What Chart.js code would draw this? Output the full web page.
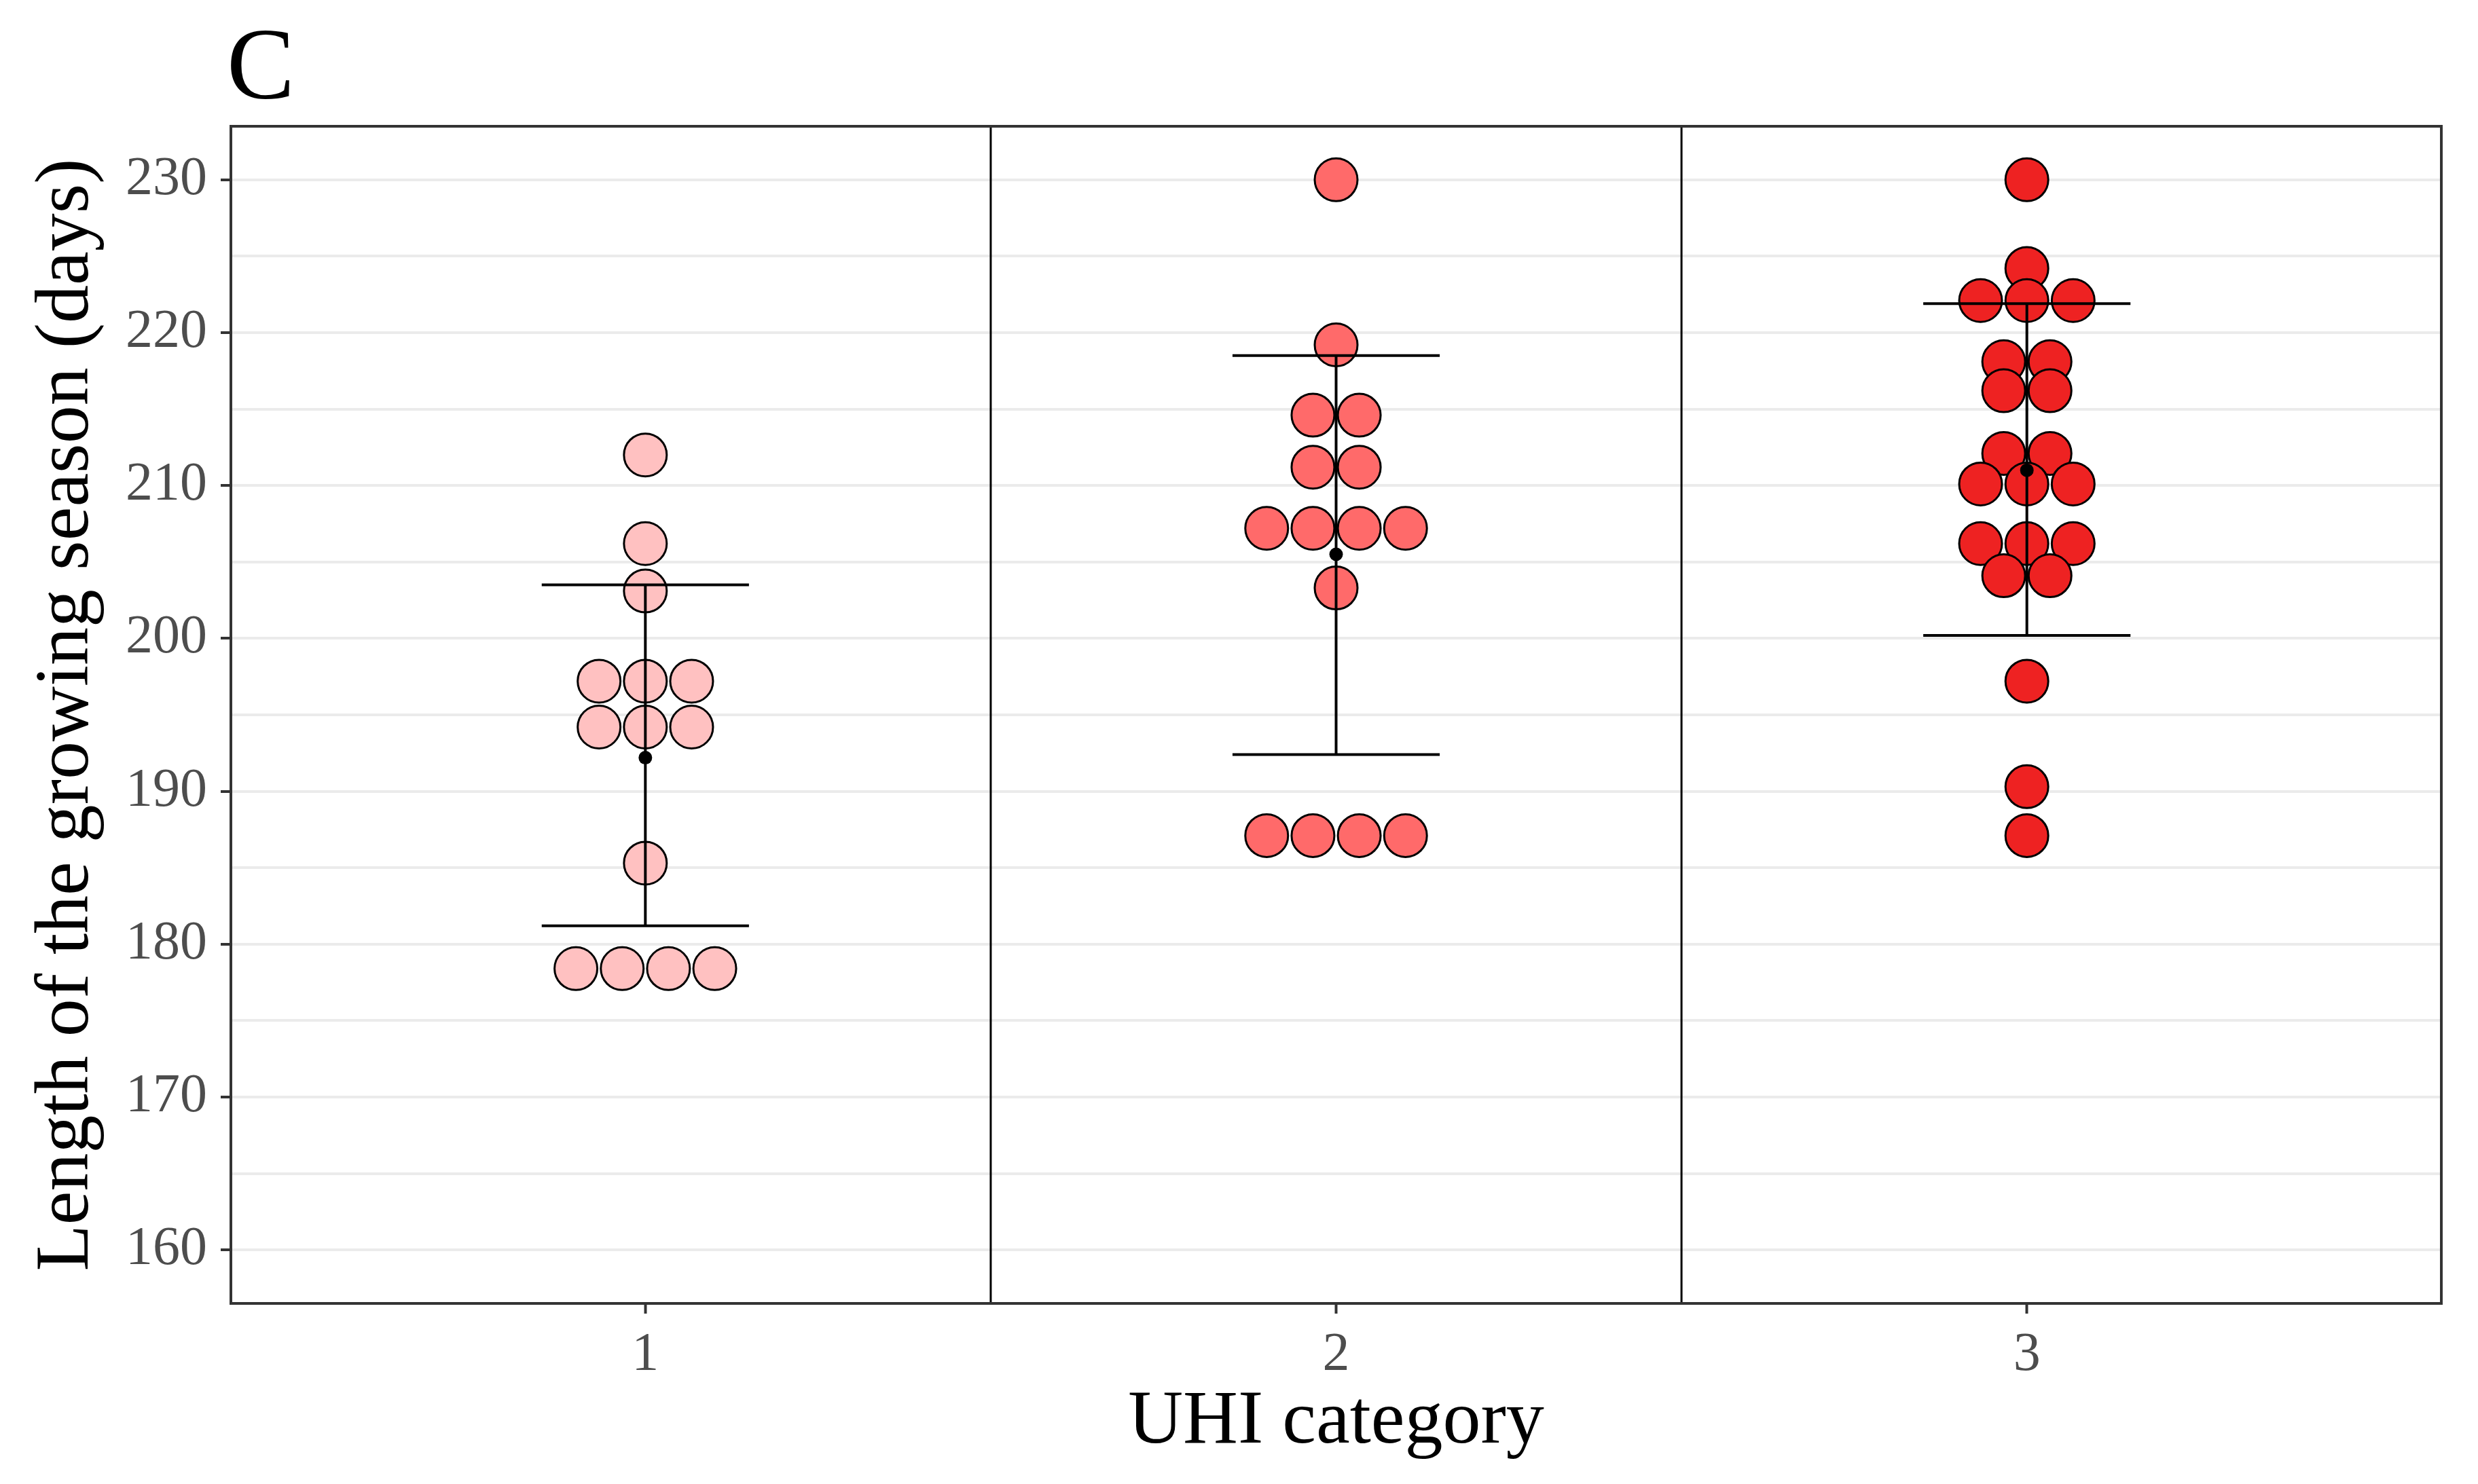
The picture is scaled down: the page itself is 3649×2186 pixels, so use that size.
<!DOCTYPE html>
<html><head><meta charset="utf-8">
<script src="https://cdn.jsdelivr.net/npm/chart.js@4/dist/chart.umd.min.js"></script>
<style>html,body{margin:0;padding:0;background:#fff}#wrap{width:3649px;height:2186px}</style>
</head><body><div id="wrap"><canvas id="c" width="3649" height="2186"></canvas></div>
<script>
// ---- data ----
const categories = [1, 2, 3];
const categoryLabels = ['1', '2', '3'];
const uhi1 = [212.0, 206.2, 203.1, 197.2, 197.2, 197.2, 194.2, 194.2, 194.2, 185.3, 178.4, 178.4, 178.4, 178.4];
const uhi2 = [230.0, 219.2, 214.6, 214.6, 211.2, 211.2, 207.2, 207.2, 207.2, 207.2, 203.3, 187.1, 187.1, 187.1, 187.1];
const uhi3 = [230.0, 224.2, 222.1, 222.1, 222.1, 218.1, 218.1, 216.2, 216.2, 212.1, 212.1, 210.1, 210.1, 210.1, 206.2, 206.2, 206.2, 204.1, 204.1, 197.2, 190.3, 187.1];
const groupMeans = [192.2, 205.5, 211.0];
const groupLower = [181.2, 192.4, 200.2];
const groupUpper = [203.5, 218.5, 221.9];
const separators = [1.5, 2.5];
const yRange = [156.5, 233.5];
const xRange = [0.4, 3.6];
const yMajorTicks = [160, 170, 180, 190, 200, 210, 220, 230];
const yMinorTicks = [165, 175, 185, 195, 205, 215, 225];
const panelLabel = 'C';
const xTitle = 'UHI category';
const yTitle = 'Length of the growing season (days)';

// ---- styles ----
const dotColors = ['#FFC1C1', '#FF6A6A', '#EE2222'];
const dotStep = 0.067;
const capHalf = 0.15;
const FONT = '"Liberation Serif", "Times New Roman", serif';

function stackDots(values, cat) {
  const counts = {};
  values.forEach(v => counts[v] = (counts[v] || 0) + 1);
  const seen = {};
  return values.map(v => {
    const n = counts[v];
    const i = seen[v] = (seen[v] === undefined ? 0 : seen[v] + 1);
    return { x: cat + (i - (n - 1) / 2) * dotStep, y: v };
  });
}

const groups = [uhi1, uhi2, uhi3];
const datasets = [];

// separators
separators.forEach(s => datasets.push({
  type: 'line', data: [{ x: s, y: yRange[0] }, { x: s, y: yRange[1] }],
  borderColor: '#000', borderWidth: 3, pointRadius: 0, order: 10
}));
// dots
groups.forEach((g, k) => datasets.push({
  type: 'scatter', data: stackDots(g, categories[k]),
  backgroundColor: dotColors[k], borderColor: '#000', borderWidth: 3,
  pointRadius: 31.5, pointHoverRadius: 31.5, order: 5
}));
// error bars
categories.forEach((c, k) => {
  const segs = [
    [{ x: c, y: groupLower[k] }, { x: c, y: groupUpper[k] }],
    [{ x: c - capHalf, y: groupUpper[k] }, { x: c + capHalf, y: groupUpper[k] }],
    [{ x: c - capHalf, y: groupLower[k] }, { x: c + capHalf, y: groupLower[k] }]
  ];
  segs.forEach(seg => datasets.push({
    type: 'line', data: seg, borderColor: '#000', borderWidth: 4,
    pointRadius: 0, order: 1
  }));
});
// means
datasets.push({
  type: 'scatter', data: categories.map((c, k) => ({ x: c, y: groupMeans[k] })),
  backgroundColor: '#000', borderColor: '#000', borderWidth: 0,
  pointRadius: 10, order: 0
});

const panelBorder = {
  id: 'panelBorder',
  afterDatasetsDraw(chart) {
    const { ctx, chartArea: a } = chart;
    ctx.save();
    ctx.strokeStyle = '#333333';
    ctx.lineWidth = 4;
    ctx.strokeRect(a.left, a.top, a.right - a.left, a.bottom - a.top);
    ctx.restore();
  }
};
const panelTag = {
  id: 'panelTag',
  afterDraw(chart) {
    const ctx = chart.ctx;
    ctx.save();
    ctx.fillStyle = '#000';
    ctx.font = '150px ' + FONT;
    ctx.textBaseline = 'alphabetic';
    ctx.textAlign = 'left';
    ctx.fillText(panelLabel, 334, 145);
    ctx.restore();
  }
};

new Chart(document.getElementById('c'), {
  data: { datasets },
  options: {
    responsive: false, animation: false, devicePixelRatio: 1,
    layout: { padding: { left: 0, top: 186, right: 54, bottom: 0 } },
    plugins: { legend: { display: false }, tooltip: { enabled: false } },
    events: [],
    scales: {
      x: {
        type: 'linear', min: xRange[0], max: xRange[1],
        afterBuildTicks: s => { s.ticks = categories.map(v => ({ value: v })); },
        afterFit: s => { s.height = 266; },
        ticks: {
          callback: (v) => { const i = categories.indexOf(v); return i >= 0 ? categoryLabels[i] : ''; },
          font: { family: FONT, size: 80 }, color: '#4D4D4D', padding: 14, maxRotation: 0
        },
        grid: { drawOnChartArea: false, drawTicks: true, tickLength: 15, tickColor: '#333333', tickWidth: 4 },
        border: { display: false },
        title: { display: true, text: xTitle, font: { family: FONT, size: 112, lineHeight: 1 }, color: '#000', padding: { top: 0, bottom: 34 } }
      },
      y: {
        type: 'linear', min: yRange[0], max: yRange[1],
        afterBuildTicks: s => { s.ticks = yMajorTicks.concat(yMinorTicks).sort((a, b) => a - b).map(v => ({ value: v })); },
        afterFit: s => { s.width = 340; },
        ticks: {
          callback: (v) => yMajorTicks.includes(v) ? String(v) : '',
          font: { family: FONT, size: 80 }, color: '#4D4D4D', padding: 20
        },
        grid: {
          color: '#EBEBEB', lineWidth: 4, drawTicks: true, tickLength: 15, tickWidth: 4,
          tickColor: (ctx) => (ctx.tick && yMajorTicks.includes(ctx.tick.value)) ? '#333333' : 'rgba(0,0,0,0)'
        },
        border: { display: false },
        title: { display: true, text: yTitle, font: { family: FONT, size: 112, lineHeight: 1 }, color: '#000', padding: { top: 44, bottom: 0 } }
      }
    }
  },
  plugins: [panelBorder, panelTag]
});
</script></body></html>
